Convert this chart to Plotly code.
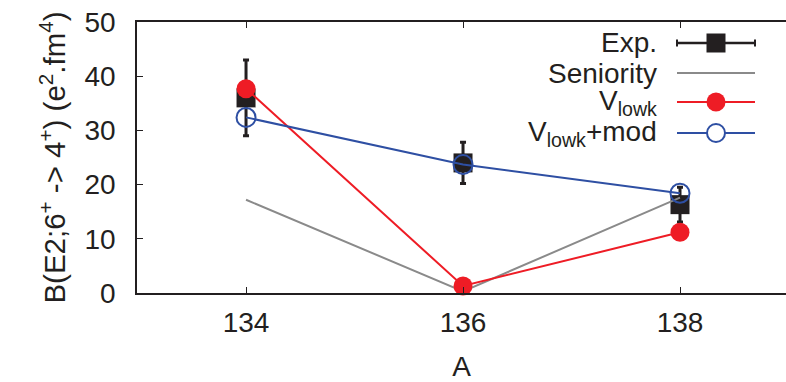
import plotly.graph_objects as go

# Mass number A and B(E2; 6+ -> 4+) values in e^2 fm^4
mass_number = [134, 136, 138]
exp_values = [36.0, 24.0, 16.3]
exp_errors = [7.0, 3.8, 3.2]
seniority_values = [17.2, 0.3, 17.6]
vlowk_values = [37.7, 1.3, 11.2]
vlowk_mod_values = [32.4, 23.7, 18.4]

x_ticks = [134, 136, 138]
y_ticks = [0, 10, 20, 30, 40, 50]

FONT = "Liberation Sans, Arial, Helvetica, sans-serif"
INK = "#231f20"
GRAY = "#8a8a8a"
RED = "#ee1c25"
BLUE = "#2e4fa3"

# plot-area geometry in pixels (used for the hand-built key)
W, H = 786, 382
L, R, T, B = 137, 786, 22, 293


def px(xp):
    return (xp - L) / (R - L)


def py(yp):
    return (B - yp) / (B - T)


fig = go.Figure()

fig.add_trace(go.Scatter(
    x=mass_number, y=exp_values, mode="markers", name="Exp.",
    marker=dict(symbol="square", size=19, color=INK),
    error_y=dict(type="data", array=exp_errors, color=INK, thickness=3, width=3),
    cliponaxis=False, showlegend=False,
))
fig.add_trace(go.Scatter(
    x=mass_number, y=seniority_values, mode="lines", name="Seniority",
    line=dict(color=GRAY, width=2), cliponaxis=False, showlegend=False,
))
fig.add_trace(go.Scatter(
    x=mass_number, y=vlowk_values, mode="lines+markers", name="Vlowk",
    line=dict(color=RED, width=2),
    marker=dict(symbol="circle", size=19, color=RED),
    cliponaxis=False, showlegend=False,
))
fig.add_trace(go.Scatter(
    x=mass_number, y=vlowk_mod_values, mode="lines+markers", name="Vlowk+mod",
    line=dict(color=BLUE, width=2),
    marker=dict(symbol="circle-open", size=19, color=BLUE, line=dict(width=2)),
    cliponaxis=False, showlegend=False,
))

# key: labels right-aligned, samples to their right
key_rows = [
    ("Exp.", 43),
    ("Seniority", 73),
    ("V<sub>lowk</sub>", 102),
    ("V<sub>lowk</sub>+mod", 133),
]
annotations = []
for text, yrow in key_rows:
    annotations.append(dict(
        xref="paper", yref="paper", x=px(659), y=py(yrow),
        xanchor="right", yanchor="middle", text=text, showarrow=False,
        font=dict(family=FONT, size=28, color=INK),
    ))

sx0, sx1, sxc = px(677), px(755), px(716)
shapes = []
# Exp. sample: bar with end caps and a square
yr = py(43)
shapes.append(dict(type="line", xref="paper", yref="paper", x0=sx0, x1=sx1, y0=yr, y1=yr,
                   line=dict(color=INK, width=2.5)))
for xe in (sx0, sx1):
    shapes.append(dict(type="line", xref="paper", yref="paper", xsizemode="scaled",
                       ysizemode="pixel", yanchor=yr, x0=xe, x1=xe, y0=-3.5, y1=3.5,
                       line=dict(color=INK, width=2)))
shapes.append(dict(type="rect", xref="paper", yref="paper", xsizemode="pixel",
                   ysizemode="pixel", xanchor=sxc, yanchor=yr, x0=-9.5, x1=9.5,
                   y0=-9.5, y1=9.5, fillcolor=INK, line=dict(width=0)))
# Seniority sample
yr = py(73)
shapes.append(dict(type="line", xref="paper", yref="paper", x0=sx0, x1=sx1, y0=yr, y1=yr,
                   line=dict(color=GRAY, width=2)))
# Vlowk sample
yr = py(102)
shapes.append(dict(type="line", xref="paper", yref="paper", x0=sx0, x1=sx1, y0=yr, y1=yr,
                   line=dict(color=RED, width=2)))
shapes.append(dict(type="circle", xref="paper", yref="paper", xsizemode="pixel",
                   ysizemode="pixel", xanchor=sxc, yanchor=yr, x0=-9.5, x1=9.5,
                   y0=-9.5, y1=9.5, fillcolor=RED, line=dict(width=0)))
# Vlowk+mod sample
yr = py(133)
shapes.append(dict(type="line", xref="paper", yref="paper", x0=sx0, x1=sx1, y0=yr, y1=yr,
                   line=dict(color=BLUE, width=2)))
shapes.append(dict(type="circle", xref="paper", yref="paper", xsizemode="pixel",
                   ysizemode="pixel", xanchor=sxc, yanchor=yr, x0=-9, x1=9,
                   y0=-9, y1=9, fillcolor="white", line=dict(color=BLUE, width=2)))

fig.update_layout(
    width=W, height=H,
    margin=dict(l=L, r=W - R, t=T, b=H - B),
    paper_bgcolor="white", plot_bgcolor="white",
    font=dict(family=FONT, size=28, color=INK),
    showlegend=False,
    annotations=annotations,
    shapes=shapes,
    xaxis=dict(
        range=[132.995, 138.977], tickvals=x_ticks, ticktext=[str(v) for v in x_ticks],
        ticks="inside", ticklen=6, tickwidth=1, tickcolor=INK,
        showline=True, linecolor=INK, linewidth=1.5, mirror="ticks",
        showgrid=False, zeroline=False, ticklabelstandoff=4,
        title=dict(text="A", standoff=20, font=dict(size=28)),
    ),
    yaxis=dict(
        range=[0, 50], tickvals=y_ticks,
        ticks="inside", ticklen=6, tickwidth=1, tickcolor=INK,
        showline=True, linecolor=INK, linewidth=1.5, mirror=False,
        showgrid=False, zeroline=False, ticklabelstandoff=14,
        title=dict(text="B(E2;6<sup>+</sup> -> 4<sup>+</sup>) (e<sup>2</sup>.fm<sup>4</sup>)",
                   standoff=10, font=dict(size=29.5)),
    ),
    yaxis2=dict(
        range=[0, 50], tickvals=y_ticks, overlaying="y", side="right",
        ticks="inside", ticklen=3, tickwidth=1, tickcolor=INK,
        showline=False, showgrid=False, zeroline=False, showticklabels=False,
    ),
)

fig.write_html("out.html")
